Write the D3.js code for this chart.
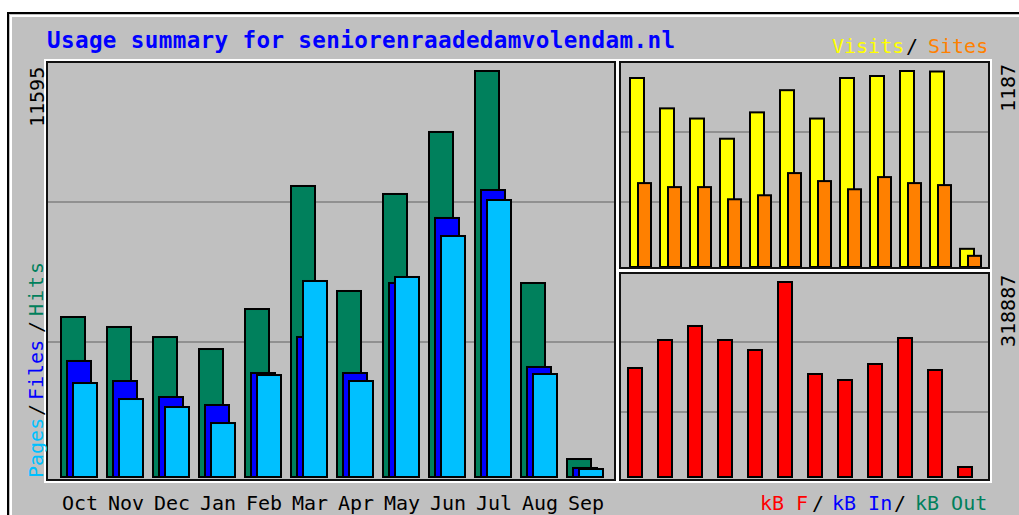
<!DOCTYPE html>
<html><head><meta charset="utf-8">
<script src="https://cdn.jsdelivr.net/npm/d3@7"></script>
<style>body{margin:0;background:#fff;} svg{display:block}</style>
</head><body><svg id="c" width="1019" height="515"></svg>
<script>
// ---- data ----
const months = ["Oct","Nov","Dec","Jan","Feb","Mar","Apr","May","Jun","Jul","Aug","Sep"];
const hits   = [4604,4320,4035,3694,4831,8327,5343,8100,9862,11595,5570,568];
const files  = [3354,2785,2330,2103,3012,4035,3012,5570,7418,8213,3183,313];
const pages  = [2728,2273,2046,1591,2955,5627,2785,5741,6906,7929,2984,284];
const visits = [1145,963,902,781,939,1072,902,1145,1157,1187,1184,121];
const sites  = [515,491,491,418,442,575,527,478,551,515,503,79];
const kbF    = [179680,225006,247670,225006,208819,318887,169966,160254,186155,228244,176443,19425];
const titleText = "Usage summary for seniorenraadedamvolendam.nl";

// ---- styles ----
const C = {grey:"#c0c0c0", hits:"#00805c", files:"#0000ff", pages:"#00c0ff",
  visits:"#ffff00", sites:"#ff8000", kb:"#ff0000", kbin:"#0000ff", kbout:"#00805c", grid:"#808080"};
const FONT = "'DejaVu Sans Mono', monospace";

const svg = d3.select("#c");

// outer frame
svg.append("rect").attr("x",0).attr("y",0).attr("width",1019).attr("height",515).attr("fill","#fff");
svg.append("rect").attr("x",8).attr("y",13).attr("width",1030).attr("height",520)
  .attr("fill",C.grey).attr("stroke","#000").attr("stroke-width",2);
svg.append("path").attr("d","M11,530 V16 H1040").attr("fill","none").attr("stroke","#fff").attr("stroke-width",2);

function panel(x0,y0,x1,y1){
  svg.append("rect").attr("x",x0-2).attr("y",y0-2).attr("width",x1-x0+4).attr("height",y1-y0+4)
    .attr("fill","none").attr("stroke","#fff").attr("stroke-width",2);
  svg.append("rect").attr("x",x0).attr("y",y0).attr("width",x1-x0).attr("height",y1-y0)
    .attr("fill","none").attr("stroke","#111").attr("stroke-width",2);
}
function grid(x0,x1,ys){
  ys.forEach(y=>svg.append("line").attr("x1",x0).attr("x2",x1).attr("y1",y).attr("y2",y)
    .attr("stroke",C.grid).attr("stroke-width",1.5));
}

// ---- main panel: hits/files/pages ----
const xM = d3.scaleBand().domain(months).range([60, 60+46*12]).padding(0);
const yM = d3.scaleLinear().domain([0, d3.max(hits)]).range([478, 70]);
grid(48,614,[202,342]);
function bars(data, xs, ys, off, w, color){
  svg.append("g").selectAll("rect").data(data).join("rect")
    .attr("x",(d,i)=>xs(months[i])+off+1)
    .attr("y",d=>ys(d)+1)
    .attr("width",w-2)
    .attr("height",d=>Math.max(0, ys(0)-ys(d)-2))
    .attr("fill",color).attr("stroke","#000").attr("stroke-width",2);
}
bars(hits, xM, yM, 0, 26, C.hits);
bars(files, xM, yM, 6, 26, C.files);
bars(pages, xM, yM, 12, 26, C.pages);
panel(47,62,615,480);

// month labels
svg.append("g").selectAll("text").data(months).join("text")
  .attr("x",d=>xM(d)+2).attr("y",510).text(d=>d)
  .attr("font-family",FONT).attr("font-size",20).attr("fill","#000");

// ---- top-right: visits/sites ----
const xV = d3.scaleBand().domain(months).range([629, 629+30*12]).padding(0);
const yV = d3.scaleLinear().domain([0, d3.max(visits)]).range([268, 70]);
grid(621,988,[132,202]);
bars(visits, xV, yV, 0, 16, C.visits);
bars(sites, xV, yV, 8, 15, C.sites);
panel(620,62,989,268);

// ---- bottom-right: kB ----
const xK = d3.scaleBand().domain(months).range([627, 627+30*12]).padding(0);
const yK = d3.scaleLinear().domain([0, d3.max(kbF)]).range([478, 281]);
grid(621,988,[342,412]);
bars(kbF, xK, yK, 0, 16, C.kb);
panel(620,273,989,480);

// ---- texts ----
svg.append("text").attr("x",47).attr("y",48).text(titleText)
  .attr("font-family",FONT).attr("font-weight","bold").attr("font-size",22.6)
  .attr("textLength",628).attr("lengthAdjust","spacing").attr("fill","#0000ff");

function t(x,y,s,color,rot){
  const el = svg.append("text").text(s).attr("font-family",FONT).attr("font-size",20).attr("fill",color);
  if(rot) el.attr("transform",`translate(${x},${y}) rotate(-90)`);
  else el.attr("x",x).attr("y",y);
  return el;
}
t(832,53,"Visits",C.visits); t(906,53,"/","#000"); t(928,53,"Sites",C.sites);
t(760,510,"kB F",C.kb); t(812,510,"/","#000"); t(832,510,"kB In",C.kbin);
t(894,510,"/","#000"); t(915,510,"kB Out",C.kbout);

t(43,478,"Pages",C.pages,true); t(43,416,"/","#000",true); t(43,400,"Files",C.files,true);
t(43,333,"/","#000",true); t(43,316,"Hits",C.hits,true).attr("textLength",54).attr("lengthAdjust","spacing");

t(44,127,String(d3.max(hits)),"#000",true);
t(1015,112,String(d3.max(visits)),"#000",true);
t(1015,347,String(d3.max(kbF)),"#000",true);
</script>
</body></html>
